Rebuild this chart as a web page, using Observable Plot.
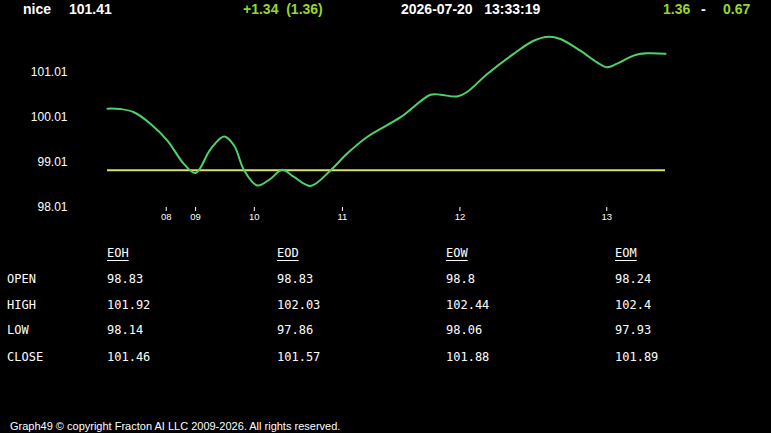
<!DOCTYPE html>
<html><head><meta charset="utf-8">
<script src="https://cdn.jsdelivr.net/npm/d3@7"></script>
<script src="https://cdn.jsdelivr.net/npm/@observablehq/plot@0.6"></script>
<style>
html,body{margin:0;padding:0;background:#000;width:771px;height:433px;overflow:hidden;}
#wrap{position:relative;width:771px;height:433px;font-family:Arial,"Liberation Sans",sans-serif;color:#fff;}
#chart{position:absolute;left:0;top:0;}
.h{position:absolute;top:0;font-weight:bold;font-size:14px;line-height:18px;white-space:pre;color:#fff;}
.g{color:#96d62e;}
.t{position:absolute;font-family:"DejaVu Sans Mono",monospace;font-size:12px;line-height:14px;color:#fff;white-space:pre;}
.u{text-decoration:underline;text-underline-offset:3px;}
#foot{position:absolute;left:10px;top:419px;font-size:11px;line-height:14px;color:#fff;white-space:pre;}
</style>
</head><body>
<div id="wrap">
  <div id="chart"></div>
  <div class="h" style="left:23px">nice</div>
  <div class="h" style="left:69px">101.41</div>
  <div class="h g" style="left:243px">+1.34  (1.36)</div>
  <div class="h" style="left:401px">2026-07-20   13:33:19</div>
  <div class="h g" style="left:663px">1.36</div>
  <div class="h" style="left:701px">-</div>
  <div class="h g" style="left:723px">0.67</div>
  <div id="table"></div>
  <div id="foot">Graph49 © copyright Fracton AI LLC 2009-2026. All rights reserved.</div>
</div>
<script>
// ---- chart data ----
const samples = [0, 4.5, 9, 14.7, 20.4, 26, 30, 35.1, 39.7, 43.1, 46.5, 51, 55.5, 59.5, 63.5, 69.1, 76, 81.6, 88.4, 99.8, 110, 113.4, 119, 122.4, 129.3, 138.3, 145.1, 150.2, 154.2, 161, 166.7, 170.1, 173.5, 179.1, 183.7, 190];
const prices  = [100.20, 100.19, 100.12, 99.86, 99.49, 98.97, 98.77, 99.30, 99.58, 99.38, 98.83, 98.49, 98.64, 98.84, 98.68, 98.48, 98.83, 99.20, 99.57, 100.01, 100.51, 100.51, 100.47, 100.57, 100.97, 101.42, 101.71, 101.80, 101.75, 101.49, 101.23, 101.12, 101.20, 101.38, 101.43, 101.42];
const refLevel = 98.83;
const yTicks = [98.01, 99.01, 100.01, 101.01];
const xTickSamples = [20, 30, 50, 80, 120, 170];
const xTickLabels = ["08", "09", "10", "11", "12", "13"];

// ---- table data ----
const rowLabels = ["OPEN", "HIGH", "LOW", "CLOSE"];
const colLabels = ["EOH", "EOD", "EOW", "EOM"];
const eoh = ["98.83", "101.92", "98.14", "101.46"];
const eod = ["98.83", "102.03", "97.86", "101.57"];
const eow = ["98.8", "102.44", "98.06", "101.88"];
const eom = ["98.24", "102.4", "97.93", "101.89"];

const data = samples.map((s, i) => ({s, v: prices[i]}));

const chart = Plot.plot({
  width: 771, height: 235,
  marginLeft: 107, marginRight: 106, marginTop: 25, marginBottom: 28,
  style: {background: "transparent", color: "#fff", fontFamily: "Arial, 'Liberation Sans', sans-serif"},
  x: {domain: [0, 190]},
  y: {domain: [98.0, 102.05]},
  marks: [
    Plot.axisY({ticks: yTicks, tickFormat: d => d.toFixed(2), tickSize: 0, tickPadding: 40, fontSize: 12, label: null}),
    Plot.axisX({ticks: xTickSamples, tickFormat: d => xTickLabels[xTickSamples.indexOf(d)], tickSize: 4, tickPadding: 2, fontSize: 9.5, label: null, stroke: "#fff"}),
    Plot.ruleY([refLevel], {stroke: "#d6e26c", strokeWidth: 2}),
    Plot.line(data, {x: "s", y: "v", curve: "catmull-rom", stroke: "#4fd26a", strokeWidth: 2})
  ]
});
document.getElementById("chart").appendChild(chart);

// ---- table ----
const table = document.getElementById("table");
const colX = [107, 277, 446, 615];
const rowY = [279, 304.5, 330, 356.5];
const cols = [eoh, eod, eow, eom];
colLabels.forEach((c, j) => {
  const d = document.createElement("div");
  d.className = "t u"; d.textContent = c;
  d.style.left = colX[j] + "px"; d.style.top = (253 - 7) + "px";
  table.appendChild(d);
});
rowLabels.forEach((r, i) => {
  const d = document.createElement("div");
  d.className = "t"; d.textContent = r;
  d.style.left = "7px"; d.style.top = (rowY[i] - 7) + "px";
  table.appendChild(d);
  cols.forEach((col, j) => {
    const e = document.createElement("div");
    e.className = "t"; e.textContent = col[i];
    e.style.left = colX[j] + "px"; e.style.top = (rowY[i] - 7) + "px";
    table.appendChild(e);
  });
});
</script>
</body></html>
